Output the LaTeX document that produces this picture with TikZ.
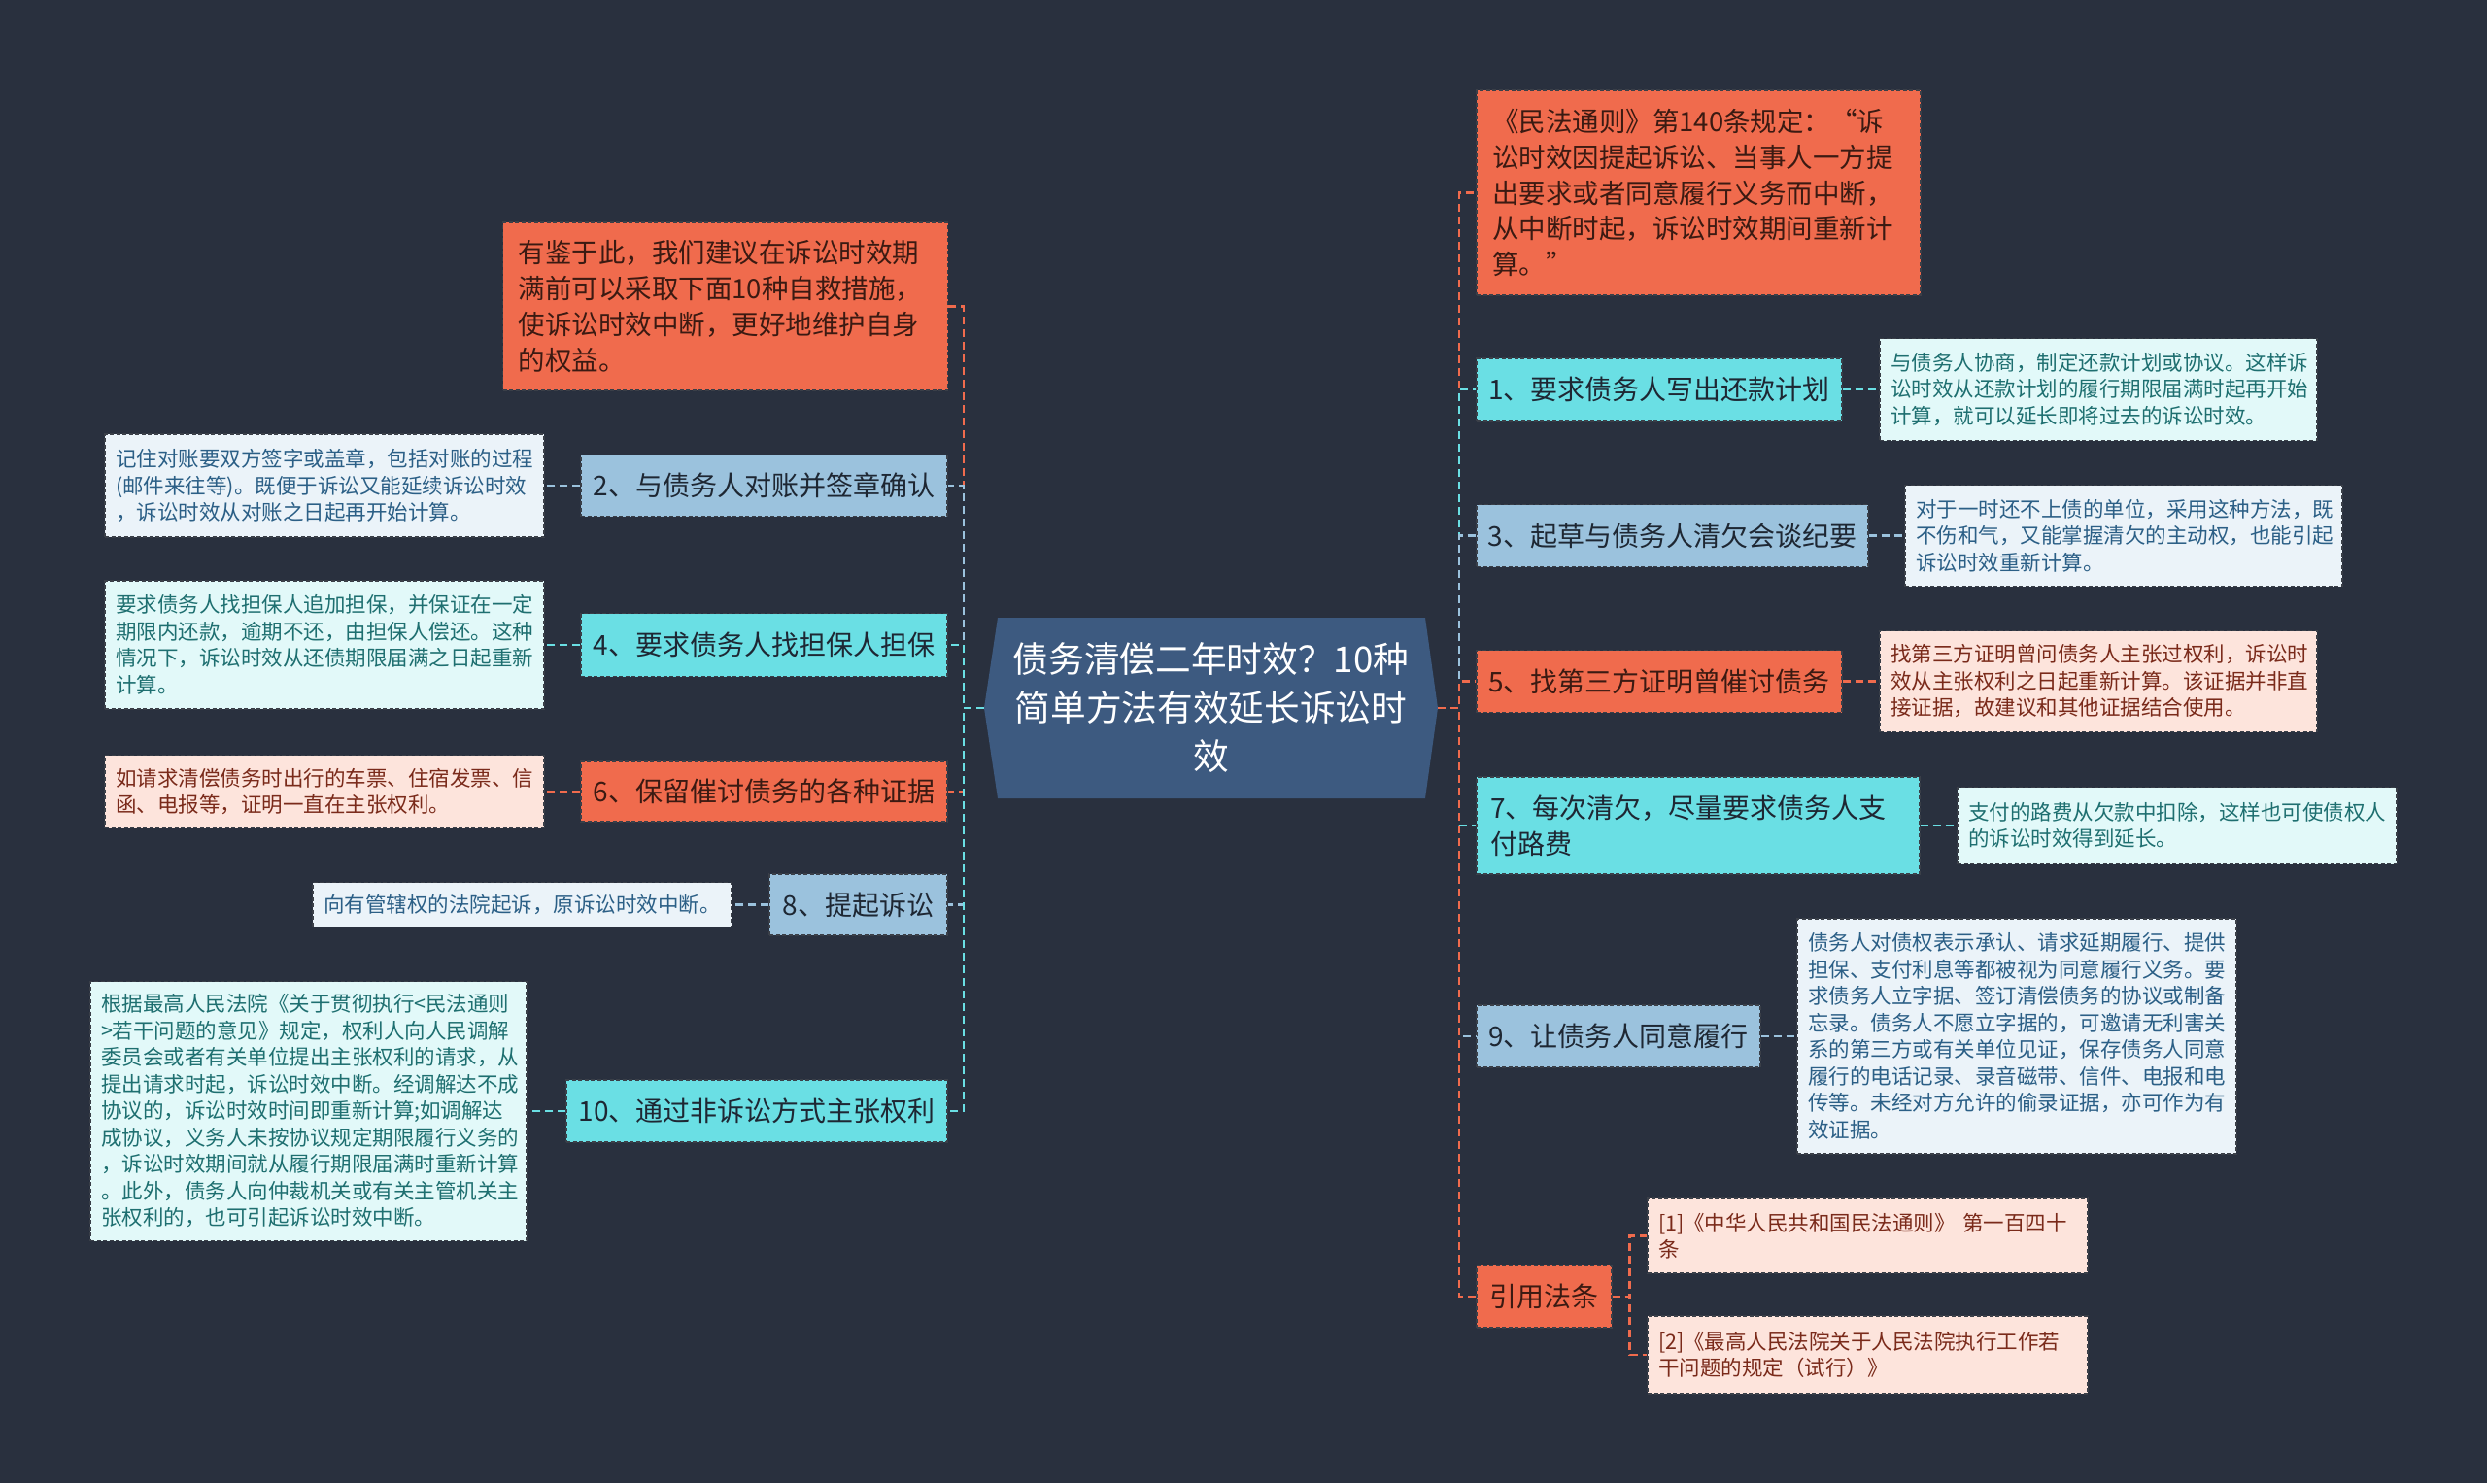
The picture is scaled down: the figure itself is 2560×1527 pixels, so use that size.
\documentclass[tikz,border=0pt]{standalone}
\usepackage{fontspec}
\newfontfamily\cjk{Noto Sans CJK SC}
\usetikzlibrary{calc}
\definecolor{bg}{HTML}{29303E}
\definecolor{coral}{HTML}{F06B4D}
\definecolor{cyanc}{HTML}{6ADFE4}
\definecolor{lblue}{HTML}{9BC2DD}
\definecolor{centerfill}{HTML}{3D5A80}
\definecolor{notecyan}{HTML}{E2F9F9}
\definecolor{noteblue}{HTML}{EBF3F9}
\definecolor{notepink}{HTML}{FDE4DC}
\definecolor{txtcyan}{HTML}{1E6F70}
\definecolor{txtblue}{HTML}{2B5F86}
\definecolor{txtpink}{HTML}{7A2A1A}
\definecolor{txtdark}{HTML}{1E2733}
\definecolor{txtbrown}{HTML}{3B1A12}
\definecolor{boxline}{HTML}{3A3F48}
\tikzset{
  boxbase/.style={rectangle, draw=boxline, dash pattern=on 4pt off 2.5pt, line width=1.3pt},
  mainnode/.style={boxbase, inner sep=0pt, align=center, font=\cjk\fontsize{28}{37.5}\selectfont},
  notenode/.style={boxbase, inner xsep=11pt, inner ysep=0pt, align=left, font=\cjk\fontsize{21.5}{27.5}\selectfont},
  bignote/.style={boxbase, inner xsep=16pt, inner ysep=0pt, align=left, fill=coral, text=txtbrown, font=\cjk\fontsize{27.5}{36.8}\selectfont},
  ccoral/.style={fill=coral, text=txtbrown},
  ccyan/.style={fill=cyanc, text=txtdark},
  cblue/.style={fill=lblue, text=txtdark},
  ncyan/.style={fill=notecyan, text=txtcyan},
  nblue/.style={fill=noteblue, text=txtblue},
  npink/.style={fill=notepink, text=txtpink},
  conn/.style={line width=2.5pt, dash pattern=on 8pt off 5pt},
}
\begin{document}
\begin{tikzpicture}[x=1pt,y=-1pt]
\fill[bg] (0,0) rectangle (2560,1527);
% center hexagon
\fill[centerfill] (1027,636) -- (1467,636) -- (1480,729) -- (1467,822) -- (1027,822) -- (1013,729) -- cycle;
\node[inner sep=0pt, minimum width=467, minimum height=186, align=center, text=white,
  font=\cjk\fontsize{36.7}{50}\selectfont] (center) at (1246.5,729)
  {债务清偿二年时效？10种\\简单方法有效延长诉讼时\\效};

% ---------- left side ----------
\node[bignote, text width=426, minimum height=173] (redL) at (746.5,315.5)
  {有鉴于此，我们建议在诉讼时效期\\满前可以采取下面10种自救措施，\\使诉讼时效中断，更好地维护自身\\的权益。};

\node[mainnode, cblue, minimum width=377, minimum height=63] (n2) at (786.5,500) {2、与债务人对账并签章确认};
\node[notenode, nblue, text width=430, minimum height=106] (t2) at (334,500)
  {记住对账要双方签字或盖章，包括对账的过程\\(邮件来往等)。既便于诉讼又能延续诉讼时效\\，诉讼时效从对账之日起再开始计算。};

\node[mainnode, ccyan, minimum width=377, minimum height=65] (n4) at (786.5,664) {4、要求债务人找担保人担保};
\node[notenode, ncyan, text width=430, minimum height=132] (t4) at (334,664)
  {要求债务人找担保人追加担保，并保证在一定\\期限内还款，逾期不还，由担保人偿还。这种\\情况下，诉讼时效从还债期限届满之日起重新\\计算。};

\node[mainnode, ccoral, minimum width=377, minimum height=62] (n6) at (786.5,815) {6、保留催讨债务的各种证据};
\node[notenode, npink, text width=430, minimum height=75] (t6) at (334,815)
  {如请求清偿债务时出行的车票、住宿发票、信\\函、电报等，证明一直在主张权利。};

\node[mainnode, cblue, minimum width=183, minimum height=63] (n8) at (883.5,931.5) {8、提起诉讼};
\node[notenode, nblue, text width=409, minimum height=46] (t8) at (537.5,931.5)
  {向有管辖权的法院起诉，原诉讼时效中断。};

\node[mainnode, ccyan, minimum width=392, minimum height=64] (n10) at (779,1144) {10、通过非诉讼方式主张权利};
\node[notenode, ncyan, text width=427, minimum height=267] (t10) at (317.5,1144)
  {根据最高人民法院《关于贯彻执行<民法通则\\>若干问题的意见》规定，权利人向人民调解\\委员会或者有关单位提出主张权利的请求，从\\提出请求时起，诉讼时效中断。经调解达不成\\协议的，诉讼时效时间即重新计算;如调解达\\成协议，义务人未按协议规定期限履行义务的\\，诉讼时效期间就从履行期限届满时重新计算\\。此外，债务人向仲裁机关或有关主管机关主\\张权利的，也可引起诉讼时效中断。};

% ---------- right side ----------
\node[bignote, text width=425, minimum height=211] (redR) at (1748.5,198.5)
  {《民法通则》第140条规定：“诉\\讼时效因提起诉讼、当事人一方提\\出要求或者同意履行义务而中断，\\从中断时起，诉讼时效期间重新计\\算。”};

\node[mainnode, ccyan, minimum width=376, minimum height=64] (n1) at (1708,401) {1、要求债务人写出还款计划};
\node[notenode, ncyan, text width=428, minimum height=105] (t1) at (2160,401)
  {与债务人协商，制定还款计划或协议。这样诉\\讼时效从还款计划的履行期限届满时起再开始\\计算，就可以延长即将过去的诉讼时效。};

\node[mainnode, cblue, minimum width=403, minimum height=64] (n3) at (1721.5,551.5) {3、起草与债务人清欠会谈纪要};
\node[notenode, nblue, text width=428, minimum height=104] (t3) at (2186,551.5)
  {对于一时还不上债的单位，采用这种方法，既\\不伤和气，又能掌握清欠的主动权，也能引起\\诉讼时效重新计算。};

\node[mainnode, ccoral, minimum width=376, minimum height=64] (n5) at (1708,701.5) {5、找第三方证明曾催讨债务};
\node[notenode, npink, text width=428, minimum height=104] (t5) at (2160,701.5)
  {找第三方证明曾问债务人主张过权利，诉讼时\\效从主张权利之日起重新计算。该证据并非直\\接证据，故建议和其他证据结合使用。};

\node[mainnode, ccyan, align=left, inner xsep=14pt, text width=428, minimum height=100] (n7) at (1748,850)
  {7、每次清欠，尽量要求债务人支\\付路费};
\node[notenode, ncyan, text width=430, minimum height=79] (t7) at (2241,850)
  {支付的路费从欠款中扣除，这样也可使债权人\\的诉讼时效得到延长。};

\node[mainnode, cblue, minimum width=292, minimum height=64] (n9) at (1666,1067) {9、让债务人同意履行};
\node[notenode, nblue, text width=430, minimum height=242] (t9) at (2076,1067)
  {债务人对债权表示承认、请求延期履行、提供\\担保、支付利息等都被视为同意履行义务。要\\求债务人立字据、签订清偿债务的协议或制备\\忘录。债务人不愿立字据的，可邀请无利害关\\系的第三方或有关单位见证，保存债务人同意\\履行的电话记录、录音磁带、信件、电报和电\\传等。未经对方允许的偷录证据，亦可作为有\\效证据。};

\node[mainnode, ccoral, minimum width=139, minimum height=64] (nref) at (1589.5,1335) {引用法条};
\node[notenode, npink, text width=431, minimum height=77] (r1) at (1922.5,1272.5)
  {[1]《中华人民共和国民法通则》 第一百四十\\条};
\node[notenode, npink, text width=431, minimum height=80] (r2) at (1922.5,1395)
  {[2]《最高人民法院关于人民法院执行工作若\\干问题的规定（试行）》};

% ---------- connectors ----------
\draw[conn, coral] (center.west) -- ++(-21,0) |- (redL.east);
\draw[conn, lblue] (center.west) -- ++(-21,0) |- (n2.east);
\draw[conn, cyanc] (center.west) -- ++(-21,0) |- (n4.east);
\draw[conn, coral] (center.west) -- ++(-21,0) |- (n6.east);
\draw[conn, lblue] (center.west) -- ++(-21,0) |- (n8.east);
\draw[conn, cyanc] (center.west) -- ++(-21,0) |- (n10.east);

\draw[conn, coral] (center.east) -- ++(22,0) |- (redR.west);
\draw[conn, cyanc] (center.east) -- ++(22,0) |- (n1.west);
\draw[conn, lblue] (center.east) -- ++(22,0) |- (n3.west);
\draw[conn, coral] (center.east) -- ++(22,0) |- (n5.west);
\draw[conn, cyanc] (center.east) -- ++(22,0) |- (n7.west);
\draw[conn, lblue] (center.east) -- ++(22,0) |- (n9.west);
\draw[conn, coral] (center.east) -- ++(22,0) |- (nref.west);

\draw[conn, lblue] (n2.west) -- (t2.east);
\draw[conn, cyanc] (n4.west) -- (t4.east);
\draw[conn, coral] (n6.west) -- (t6.east);
\draw[conn, lblue] (n8.west) -- (t8.east);
\draw[conn, cyanc] (n10.west) -- (t10.east);

\draw[conn, cyanc] (n1.east) -- (t1.west);
\draw[conn, lblue] (n3.east) -- (t3.west);
\draw[conn, coral] (n5.east) -- (t5.west);
\draw[conn, cyanc] (n7.east) -- (t7.west);
\draw[conn, lblue] (n9.east) -- (t9.west);
\draw[conn, coral] (nref.east) -- ++(18,0) |- (r1.west);
\draw[conn, coral] (nref.east) -- ++(18,0) |- (r2.west);
\end{tikzpicture}
\end{document}
